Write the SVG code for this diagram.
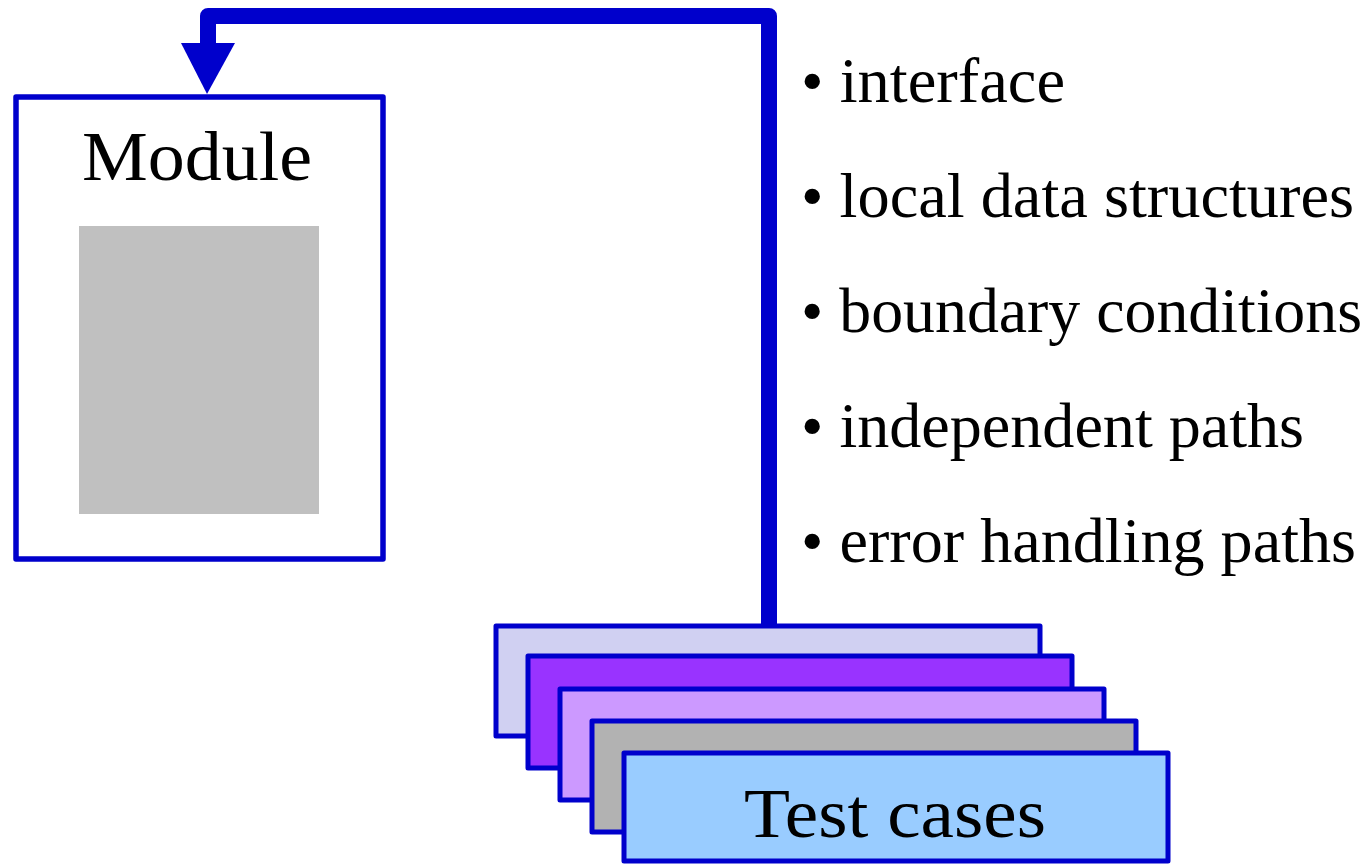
<svg xmlns="http://www.w3.org/2000/svg" width="1370" height="864" viewBox="0 0 1370 864">
  <style>
    .box { stroke: #0000CC; stroke-width: 5.5; stroke-linejoin: round; }
    .card { stroke: #0000CC; stroke-width: 5; stroke-linejoin: round; }
    .title { font-size: 70px; fill: #000; text-anchor: middle; }
    .item { font-size: 63px; fill: #000; }
    .wire { fill: none; stroke: #0000CC; stroke-width: 16; stroke-linejoin: round; }
  </style>
  <rect width="1370" height="864" fill="#FFFFFF"/>

  <!-- Module under test -->
  <g id="module">
    <rect class="box" x="16" y="97" width="367" height="462" fill="#FFFFFF"/>
    <rect x="79" y="226" width="240" height="288" fill="#C0C0C0"/>
    <text class="title" x="197" y="180" textLength="230" lengthAdjust="spacingAndGlyphs" font-family="'Liberation Serif', 'DejaVu Serif', serif">Module</text>
  </g>

  <!-- Feedback from the test cases back into the module -->
  <g id="connectors">
    <path class="wire" d="M769 626 V16 H208 V46"/>
    <polygon points="181,43 235,43 207,94" fill="#0000CC"/>
  </g>

  <!-- Aspects exercised -->
  <g id="checklist" font-family="'Liberation Serif', 'DejaVu Serif', serif">
    <text class="item" x="801" y="102" textLength="264" lengthAdjust="spacingAndGlyphs">• interface</text>
    <text class="item" x="801" y="217" textLength="553" lengthAdjust="spacingAndGlyphs">• local data structures</text>
    <text class="item" x="801" y="332" textLength="561" lengthAdjust="spacingAndGlyphs">• boundary conditions</text>
    <text class="item" x="801" y="447" textLength="503" lengthAdjust="spacingAndGlyphs">• independent paths</text>
    <text class="item" x="801" y="562" textLength="555" lengthAdjust="spacingAndGlyphs">• error handling paths</text>
  </g>

  <!-- Stack of test cases -->
  <g id="test-cases">
    <rect class="card" x="496" y="626" width="544" height="110" fill="#D0D0F2"/>
    <rect class="card" x="528" y="656" width="544" height="112" fill="#9933FF"/>
    <rect class="card" x="560" y="689" width="544" height="111" fill="#CC99FF"/>
    <rect class="card" x="592" y="721" width="544" height="111" fill="#B2B2B2"/>
    <rect class="card" x="624" y="753" width="544" height="108" fill="#99CCFF"/>
    <text class="title" x="895" y="837" textLength="302" lengthAdjust="spacingAndGlyphs" font-family="'Liberation Serif', 'DejaVu Serif', serif">Test cases</text>
  </g>
</svg>
